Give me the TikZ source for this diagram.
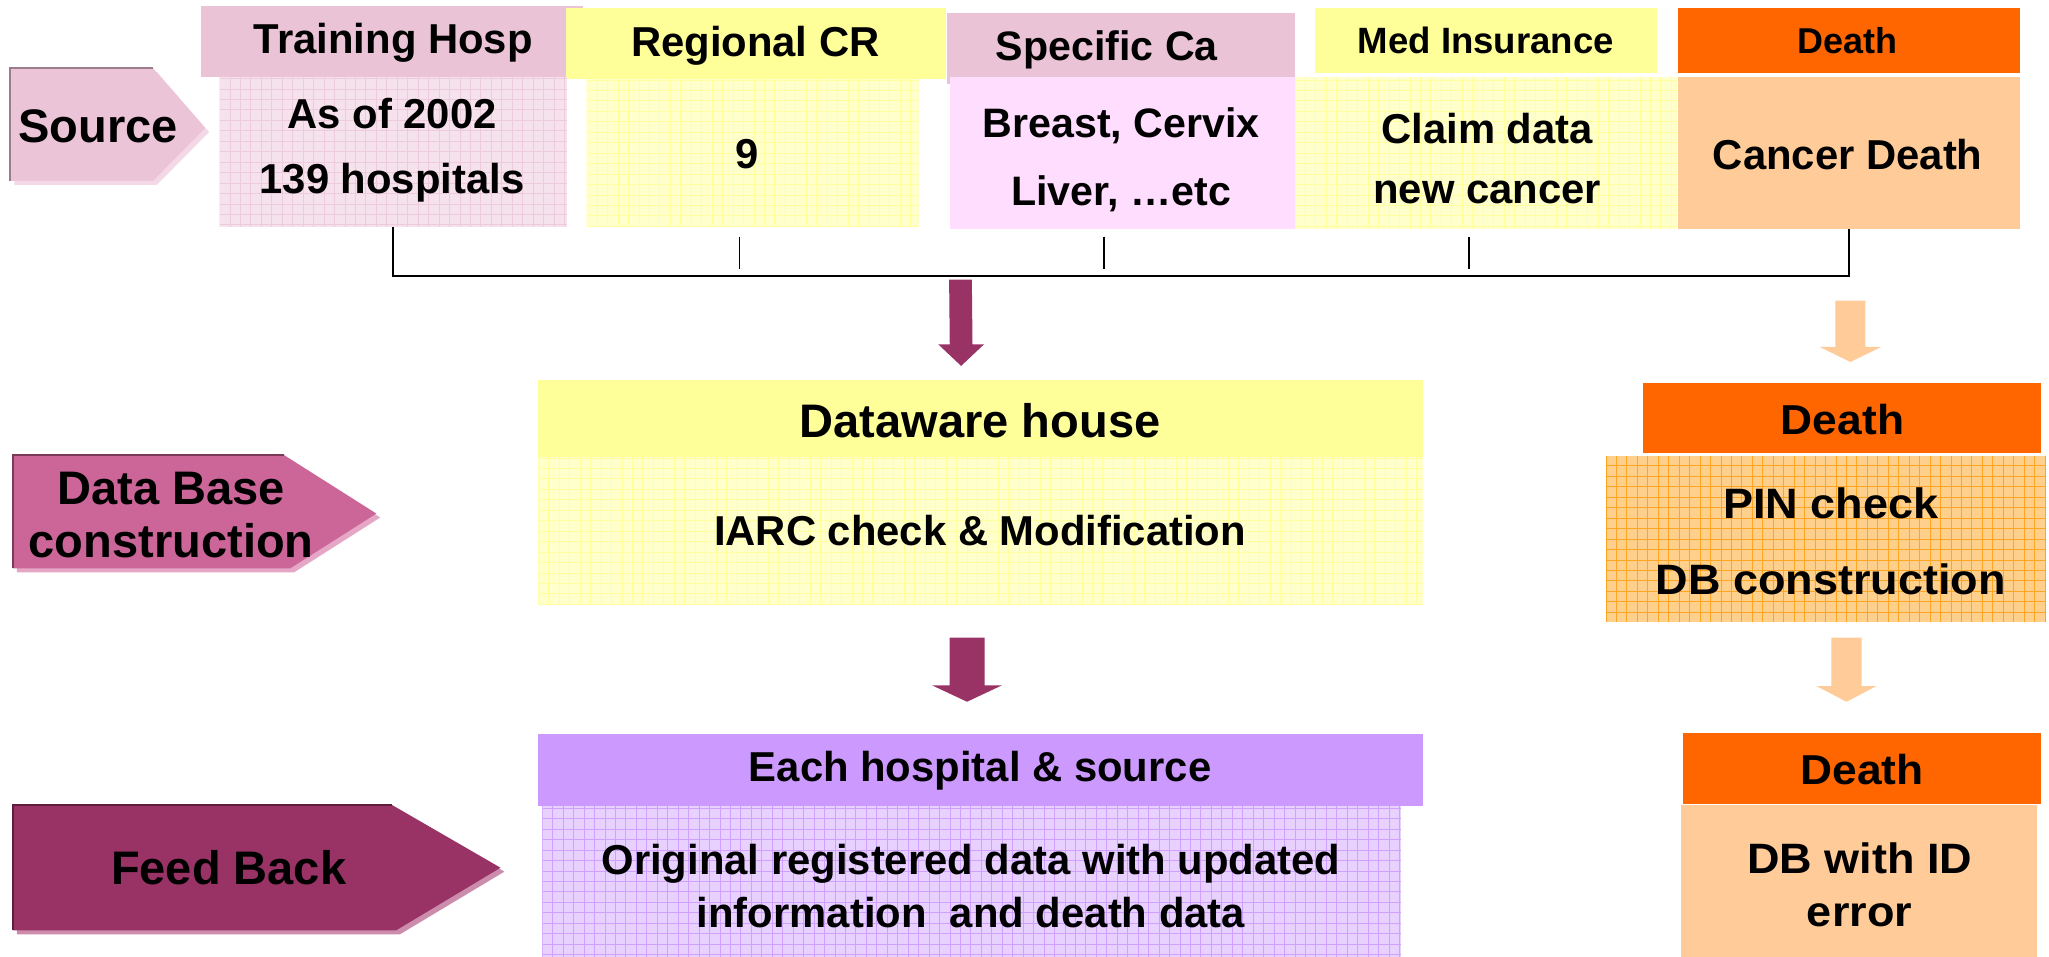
\documentclass[tikz,border=0pt]{standalone}
\usepackage{fontspec}
\setmainfont{Liberation Sans}
\newfontfamily\widefont[FakeStretch=1.06]{Liberation Sans}
\usetikzlibrary{calc,fit}
\definecolor{pinkH}{HTML}{EAC4D6}
\definecolor{pinkB}{HTML}{F6E2EC}
\definecolor{pinkG}{HTML}{EECBDC}
\definecolor{yelH}{HTML}{FFFF99}
\definecolor{yelB}{HTML}{FFFFCC}
\definecolor{yelG}{HTML}{FFFF9E}
\definecolor{magB}{HTML}{FFDDFF}
\definecolor{orgH}{HTML}{FF6600}
\definecolor{peach}{HTML}{FFCC99}
\definecolor{pinB}{HTML}{FFD08C}
\definecolor{pinG}{HTML}{FFA524}
\definecolor{lavH}{HTML}{CC99FF}
\definecolor{lavB}{HTML}{E8D0FF}
\definecolor{lavG}{HTML}{CFA0FF}
\definecolor{arrM}{HTML}{993366}
\definecolor{arrR}{HTML}{FFCC99}
\definecolor{srcF}{HTML}{EBC4D7}
\definecolor{srcD}{HTML}{9C7C8C}
\definecolor{srcS}{HTML}{F4D8E6}
\definecolor{dbF}{HTML}{CC6699}
\definecolor{dbD}{HTML}{7A3A5A}
\definecolor{dbS}{HTML}{E6A6C6}
\definecolor{fbF}{HTML}{993366}
\definecolor{fbD}{HTML}{5C1E3C}
\definecolor{fbS}{HTML}{CC8CAC}
\newcommand\fz[2]{\fontsize{#1pt}{#2pt}\selectfont\bfseries}
\newcommand\wz[2]{\widefont\fontsize{#1pt}{#2pt}\selectfont\bfseries}
% block arrow: start, end, shaft half width, head half width, head length, colour
\newcommand\myblockarrow[6]{%
  \fill[#6] ($(#1)+(-#3,0)$) -- ($(#1)+(#3,0)$) -- ($(#2)+(#3,-#5)$) -- ($(#2)+(#4,-#5)$)
    -- (#2) -- ($(#2)+(-#4,-#5)$) -- ($(#2)+(-#3,-#5)$) -- cycle;}
\begin{document}
\begin{tikzpicture}[x=1pt,y=-1pt,
  box/.style={inner sep=0pt, outer sep=0pt, draw=none, rectangle},
  txt/.style={inner sep=0pt, outer sep=0pt, align=center, text=black},
  gridded/.style={path picture={\draw[draw=#1, line width=0.7pt]
     (path picture bounding box.north west) grid[step=8pt] (path picture bounding box.south east);}},
  brk/.style={line width=1.3pt, draw=black},
]
\useasboundingbox (0,0) rectangle (1568,732);
\fill[white] (0,0) rectangle (1568,732);

% ---------- left pentagons ----------
\fill[srcS, shift={(3,3)}] (8,52) -- (117,52) -- (157,98) -- (117,138.5) -- (8,138.5) -- cycle;
\fill[srcF] (8,52) -- (117,52) -- (157,98) -- (117,138.5) -- (8,138.5) -- cycle;
\draw[srcD, line width=1.6pt] (8,138.5) -- (8,52) -- (117,52);
\node[txt, font=\fz{36}{43}] (srcT) at (75,97) {Source};

\fill[dbS, shift={(3,3)}] (10,348) -- (217,348) -- (288,393) -- (222,435) -- (10,435) -- cycle;
\fill[dbF] (10,348) -- (217,348) -- (288,393) -- (222,435) -- (10,435) -- cycle;
\draw[dbD, line width=1.6pt] (10,435) -- (10,348) -- (217,348);
\node[txt, font=\fz{36}{41}] (dbT) at (131,394) {Data Base\\construction};

\fill[fbS, shift={(3,3)}] (10,616) -- (300,616) -- (383,664) -- (303,712) -- (10,712) -- cycle;
\fill[fbF] (10,616) -- (300,616) -- (383,664) -- (303,712) -- (10,712) -- cycle;
\draw[fbD, line width=1.6pt] (10,712) -- (10,616) -- (300,616);
\node[txt, font=\fz{36}{43}] (fbT) at (175,664) {Feed Back};

% ---------- source row ----------
\node[box, fill=pinkH, fit={(154,4.5) (446,58.7)}] (trainH) {};
\node[box, fill=yelH, fit={(433,6) (724,60.5)}] (regH) {};
\node[box, fill=pinkB, gridded=pinkG, fit={(168,58.7) (434,173.5)}] (trainB) {};
\node[box, fill=yelB, gridded=yelG, fit={(449,60.5) (703,174)}] (regB) {};
\node[box, fill=pinkH, fit={(725,10) (991,64)}] (specH) {};
\node[box, fill=magB, fit={(727,58.7) (991,175.3)}] (specB) {};
\node[box, fill=yelH, fit={(1006,6) (1268,55.6)}] (medH) {};
\node[box, fill=yelB, gridded=yelG, fit={(991,59.2) (1283,175.3)}] (medB) {};
\node[box, fill=orgH, fit={(1284,6) (1546,55.6)}] (deathH) {};
\node[box, fill=peach, fit={(1284,59.2) (1546,175.3)}] (deathB) {};

\node[txt, font=\fz{32}{38}] (trainHT) at (301,33) {Training Hosp};
\node[txt, font=\fz{32}{50}] (trainBT) at (300,115) {As of 2002\\139 hospitals};
\node[txt, font=\fz{32}{38}] (regHT) at (578,35) {Regional CR};
\node[txt, font=\fz{32}{38}] (regBT) at (572,118) {9};
\node[txt, font=\fz{31.5}{38}] (specHT) at (847,38) {Specific Ca};
\node[txt, font=\fz{31.5}{52}] (specBT) at (858,122) {Breast, Cervix\\Liver, …etc};
\node[txt, font=\fz{28}{34}] (medHT) at (1137,31) {Med Insurance};
\node[txt, font=\fz{32}{46}] (medBT) at (1138,121) {Claim data\\new cancer};
\node[txt, font=\fz{27.5}{34}] (deathHT) at (1414,31) {Death};
\node[txt, font=\fz{32}{38}] (deathBT) at (1414,118) {Cancer Death};

% ---------- bracket ----------
\coordinate (brL) at (301,211);
\coordinate (brR) at (1415,211);
\draw[brk] (trainB.south) -- (trainB.south |- brL) -- (brR) -- (deathB.south);
\coordinate (tk1) at (566,181);
\coordinate (tk2) at (845,181);
\coordinate (tk3) at (1124,181);
\draw[brk] (tk1) -- ++(0,25);
\draw[brk] (tk2) -- ++(0,25);
\draw[brk] (tk3) -- ++(0,25);

% ---------- data warehouse ----------
\node[box, fill=yelH, fit={(412,291) (1089,350)}] (dwH) {};
\node[box, fill=yelB, gridded=yelG, fit={(412,350) (1089,463)}] (dwB) {};
\node[txt, font=\fz{36}{43}] (dwHT) at (750,322) {Dataware house};
\node[txt, font=\fz{32}{38}] (dwBT) at (750,406) {IARC check \& Modification};

% ---------- feedback ----------
\node[box, fill=lavH, fit={(412,562) (1089,617)}] (ehH) {};
\node[box, fill=lavB, gridded=lavG, fit={(415,617) (1072,732)}] (ehB) {};
\node[txt, font=\fz{32}{38}] (ehHT) at (750,590) {Each hospital \& source};
\node[txt, font=\fz{32}{41}] (ehBT) at (743,678) {Original registered data with updated\\information\ \ and death data};

% ---------- right column ----------
\node[box, fill=orgH, fit={(1257,293) (1562,347)}] (d2H) {};
\node[box, fill=pinB, gridded=pinG, fit={(1229,349) (1566,476)}] (d2B) {};
\node[txt, font=\wz{32}{38}] (d2HT) at (1410,321) {Death};
\node[txt, font=\wz{32.5}{58}] (d2BT) at (1401,414) {PIN check\\DB construction};

\node[box, fill=orgH, fit={(1288,561) (1562,615)}] (d3H) {};
\node[box, fill=peach, fit={(1286,616) (1559,732)}] (d3B) {};
\node[txt, font=\wz{32}{38}] (d3HT) at (1425,589) {Death};
\node[txt, font=\wz{32.5}{40}] (d3BT) at (1423,677) {DB with ID\\error};

% ---------- block arrows ----------
\coordinate (a1s) at (735,214);
\coordinate (a1e) at ($(dwH.north)+(-15,-11)$);
\myblockarrow{a1s}{a1e}{8.7}{17.5}{16.5}{arrM}
\coordinate (a2s) at ($(dwB.south)+(-10.5,25)$);
\coordinate (a2e) at ($(ehH.north)+(-10.5,-25)$);
\myblockarrow{a2s}{a2e}{13.4}{26.6}{12.5}{arrM}
\coordinate (r1s) at (1416,230);
\coordinate (r1e) at ($(d2H.north)+(6.5,-16)$);
\myblockarrow{r1s}{r1e}{11.5}{23.5}{11.5}{arrR}
\coordinate (r2s) at ($(d2B.south)+(15.5,12)$);
\coordinate (r2e) at ($(d3H.north)+(-12,-24)$);
\myblockarrow{r2s}{r2e}{11.5}{23}{12}{arrR}
\end{tikzpicture}
\end{document}
